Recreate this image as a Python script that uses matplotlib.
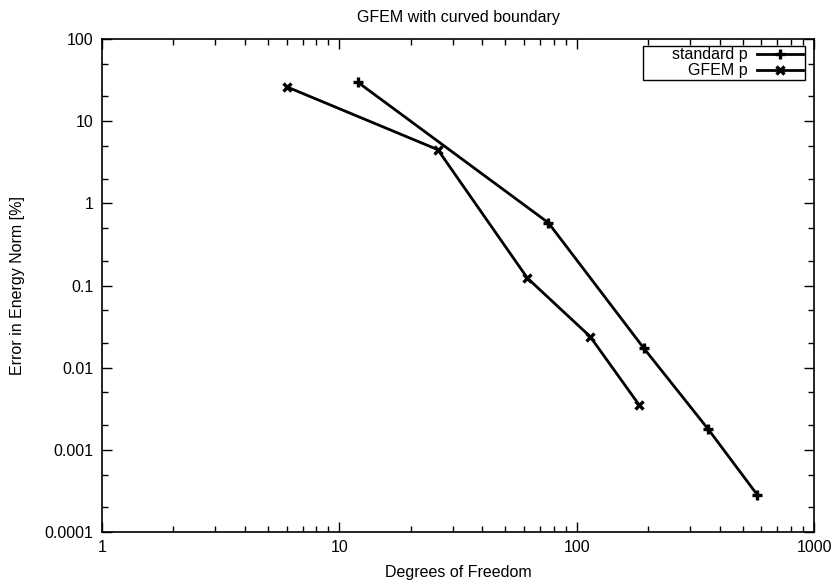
import matplotlib.pyplot as plt
from matplotlib.ticker import LogLocator, FixedLocator, FixedFormatter, NullFormatter

plt.rcParams["font.family"] = ["Liberation Sans", "DejaVu Sans"]

# values
std_dof = [12, 76, 192, 359, 577]
std_err = [29.6, 0.58, 0.0172, 0.00177, 0.000283]

gfem_dof = [6, 26, 62, 114, 183]
gfem_err = [26.2, 4.5, 0.123, 0.0239, 0.00354]

xticks = [1, 10, 100, 1000]
xlabels = ["1", "10", "100", "1000"]
yticks = [0.0001, 0.001, 0.01, 0.1, 1, 10, 100]
ylabels = ["0.0001", "0.001", "0.01", "0.1", "1", "10", "100"]

fs = 11.5

fig = plt.figure(figsize=(8.39, 5.86), dpi=100)
ax = fig.add_axes([102 / 839, 54 / 586, 712 / 839, 493 / 586])

ax.plot(std_dof, std_err, color="black", lw=2, marker="+", ms=7.5, mew=2.4, label="      standard p")
ax.plot(gfem_dof, gfem_err, color="black", lw=2, marker="x", ms=6, mew=2.4, label="GFEM p")

ax.set_xscale("log")
ax.set_yscale("log")
ax.set_xlim(1, 1000)
ax.set_ylim(0.0001, 100)

ax.xaxis.set_major_locator(FixedLocator(xticks))
ax.xaxis.set_major_formatter(FixedFormatter(xlabels))
ax.xaxis.set_minor_locator(LogLocator(base=10, subs=range(2, 10)))
ax.xaxis.set_minor_formatter(NullFormatter())
ax.yaxis.set_major_locator(FixedLocator(yticks))
ax.yaxis.set_major_formatter(FixedFormatter(ylabels))
ax.yaxis.set_minor_locator(LogLocator(base=10, subs=[2, 5]))
ax.yaxis.set_minor_formatter(NullFormatter())

ax.tick_params(which="both", direction="in", top=True, right=True, labelsize=fs, pad=6)
ax.tick_params(which="major", length=7, width=1)
ax.tick_params(which="minor", length=4, width=1)
for s in ax.spines.values():
    s.set_linewidth(1.2)

ax.set_title("GFEM with curved boundary", fontsize=fs, pad=12)
ax.set_xlabel("Degrees of Freedom", fontsize=fs, labelpad=7)
ax.set_ylabel("Error in Energy Norm [%]", fontsize=fs, labelpad=14)

leg = ax.legend(loc="upper right", bbox_to_anchor=(0.987, 0.986), markerfirst=False,
                fancybox=False, framealpha=1, edgecolor="black", fontsize=fs,
                handlelength=2.9, borderpad=0.1, labelspacing=0.05, handletextpad=0.6,
                borderaxespad=0)
leg.get_frame().set_linewidth(1.0)
leg._legend_box.align = "right"
for t in leg.get_texts():
    t.set_ha("right")

fig.savefig("out.png", dpi=100)
